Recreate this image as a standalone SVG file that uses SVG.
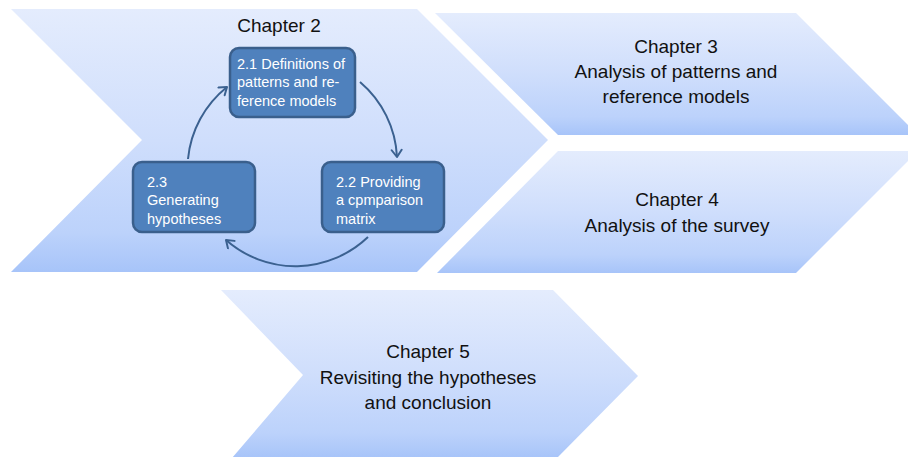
<svg xmlns="http://www.w3.org/2000/svg" width="908" height="457" viewBox="0 0 908 457">
<defs>
<linearGradient id="g" x1="0" y1="0" x2="0" y2="1">
<stop offset="0" stop-color="#e4ecfd"/>
<stop offset="0.5" stop-color="#cfdefc"/>
<stop offset="0.85" stop-color="#bcd2fb"/>
<stop offset="1" stop-color="#a7c4f9"/>
</linearGradient>
<marker id="ah" markerUnits="userSpaceOnUse" markerWidth="14" markerHeight="14" refX="9" refY="6" orient="auto">
<path d="M2,1 L9,6 L2,11" fill="none" stroke="#3b6190" stroke-width="2" stroke-linejoin="round" stroke-linecap="round"/>
</marker>
<style>
.chev{fill:url(#g);}
.box{fill:#4f81bd;stroke:#3a5f8c;stroke-width:2.5;}
.t{font-family:"Liberation Sans",Arial,sans-serif;font-size:19px;fill:#111;text-anchor:middle;}
.w{font-family:"Liberation Sans",Arial,sans-serif;font-size:14.5px;fill:#fff;}
.arr{fill:none;stroke:#3b6190;stroke-width:2;marker-end:url(#ah);}
</style>
</defs>
<rect width="908" height="457" fill="#fff"/>
<g id="chapter2">
<polygon class="chev" points="11,9 417,9 548,140 417,272 11,272 142,140"/>
<text class="t" x="279" y="32">Chapter 2</text>
</g>
<g id="chapter3">
<polygon class="chev" points="435,13 796,13 918,135 558,135"/>
<text class="t" x="676" y="53">Chapter 3</text>
<text class="t" x="676" y="78">Analysis of patterns and</text>
<text class="t" x="676" y="103">reference models</text>
</g>
<g id="chapter4">
<polygon class="chev" points="558,151 918,151 796,273 437,273"/>
<text class="t" x="677" y="206">Chapter 4</text>
<text class="t" x="677" y="232">Analysis of the survey</text>
</g>
<g id="chapter5">
<polygon class="chev" points="221,290 553,290 638,376 557,458 232,458 303,375"/>
<text class="t" x="428" y="358">Chapter 5</text>
<text class="t" x="428" y="384">Revisiting the hypotheses</text>
<text class="t" x="428" y="409">and conclusion</text>
</g>
<g id="box21">
<rect class="box" x="230" y="48" width="125" height="69" rx="9"/>
<text class="w" x="237" y="69">2.1 Definitions of</text>
<text class="w" x="237" y="87">patterns and re-</text>
<text class="w" x="237" y="106">ference models</text>
</g>
<g id="box22">
<rect class="box" x="322" y="162" width="122" height="70" rx="9"/>
<text class="w" x="336" y="187">2.2 Providing</text>
<text class="w" x="336" y="205">a cpmparison</text>
<text class="w" x="336" y="224">matrix</text>
</g>
<g id="box23">
<rect class="box" x="133" y="162" width="122" height="70" rx="9"/>
<text class="w" x="147" y="187">2.3</text>
<text class="w" x="147" y="205">Generating</text>
<text class="w" x="147" y="224">hypotheses</text>
</g>
<g id="connectors">
<path class="arr" d="M360,82 A105,105 0 0 1 397,157"/>
<path class="arr" d="M368,237 A105,105 0 0 1 226,240"/>
<path class="arr" d="M188,159 A105,105 0 0 1 227,87"/>
</g>
</svg>
